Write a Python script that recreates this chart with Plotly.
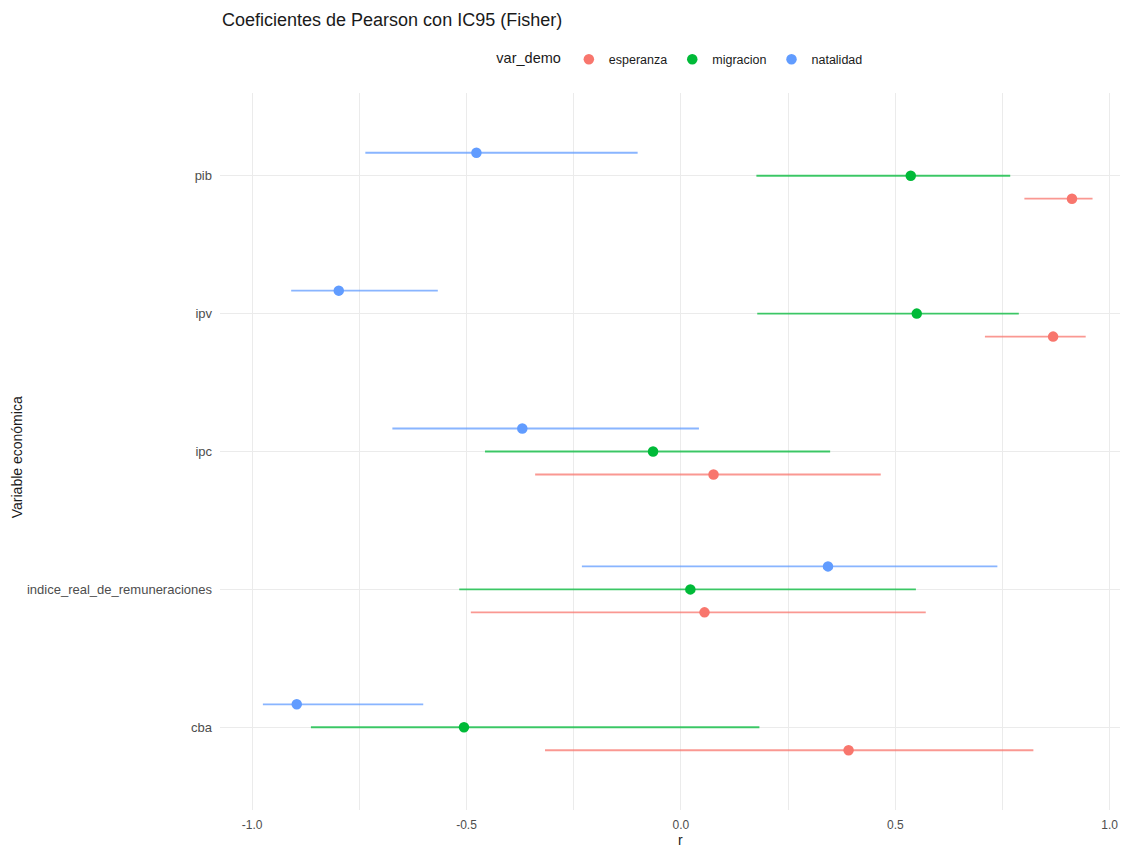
import plotly.graph_objects as go

# Data
categories = ["cba", "indice_real_de_remuneraciones", "ipc", "ipv", "pib"]
series = ["esperanza", "migracion", "natalidad"]

r_esperanza = [0.391, 0.055, 0.076, 0.868, 0.912]
lo_esperanza = [-0.317, -0.490, -0.340, 0.709, 0.801]
hi_esperanza = [0.822, 0.571, 0.466, 0.944, 0.960]

r_migracion = [-0.506, 0.022, -0.065, 0.550, 0.536]
lo_migracion = [-0.863, -0.517, -0.457, 0.178, 0.176]
hi_migracion = [0.183, 0.548, 0.348, 0.788, 0.768]

r_natalidad = [-0.896, 0.343, -0.370, -0.798, -0.477]
lo_natalidad = [-0.975, -0.231, -0.673, -0.909, -0.736]
hi_natalidad = [-0.601, 0.738, 0.042, -0.567, -0.101]

colors = {"esperanza": "#F8766D", "migracion": "#00BA38", "natalidad": "#619CFF"}
line_colors = {"esperanza": "rgba(248,118,109,0.75)", "migracion": "rgba(0,186,56,0.75)",
               "natalidad": "rgba(97,156,255,0.75)"}
data = {
    "esperanza": (r_esperanza, lo_esperanza, hi_esperanza),
    "migracion": (r_migracion, lo_migracion, hi_migracion),
    "natalidad": (r_natalidad, lo_natalidad, hi_natalidad),
}
dodge = {"esperanza": -1 / 6, "migracion": 0.0, "natalidad": 1 / 6}

fig = go.Figure()
for s in series:
    r, lo, hi = data[s]
    ypos = [i + 1 + dodge[s] for i in range(len(categories))]
    fig.add_trace(go.Scatter(
        x=r, y=ypos, mode="markers", name=s,
        marker=dict(color=colors[s], size=10.5, line=dict(width=0)),
        error_x=dict(type="data", symmetric=False,
                     array=[h - v for h, v in zip(hi, r)],
                     arrayminus=[v - l for v, l in zip(r, lo)],
                     color=line_colors[s], thickness=1.8, width=0),
        customdata=[[c] for c in categories],
        hovertemplate="%{customdata[0]}<br>r=%{x:.3f}<extra>" + s + "</extra>",
    ))

font_family = "Liberation Sans, Arial, sans-serif"
fig.update_layout(
    width=1128, height=847,
    paper_bgcolor="white", plot_bgcolor="white",
    margin=dict(l=212, r=7, t=85, b=45, autoexpand=False),
    font=dict(family=font_family, size=12, color="#4D4D4D"),
    title=dict(text="Coeficientes de Pearson con IC95 (Fisher)",
               font=dict(family=font_family, size=18, color="#1A1A1A"),
               xref="container", x=214 / 1128, xanchor="left",
               yref="container", y=1 - 12 / 847, yanchor="middle"),
    legend=dict(orientation="h", x=0.507, xanchor="center", y=1.0466, yanchor="middle",
                title=dict(text="var_demo", font=dict(size=14.5, color="#1A1A1A")),
                font=dict(size=12.5, color="#1A1A1A"),
                bgcolor="rgba(0,0,0,0)"),
    showlegend=True,
    xaxis=dict(range=[-1.075, 1.045], tickvals=[-1, -0.5, 0, 0.5, 1],
               ticktext=["-1.0", "-0.5", "0.0", "0.5", "1.0"],
               showgrid=True, gridcolor="#EBEBEB", gridwidth=1.1,
               zeroline=False, showline=False, ticks="", ticklabelstandoff=6,
               tickfont=dict(size=12, color="#4D4D4D"),
               minor=dict(tickvals=[-0.75, -0.25, 0.25, 0.75], showgrid=True,
                          gridcolor="#EBEBEB", gridwidth=0.6)),
    yaxis=dict(range=[0.4, 5.6], tickvals=[1, 2, 3, 4, 5], ticktext=categories,
               showgrid=True, gridcolor="#EBEBEB", gridwidth=1.1,
               zeroline=False, showline=False, ticks="", ticklabelstandoff=7,
               tickfont=dict(size=13, color="#4D4D4D")),
    annotations=[
        dict(text="r", xref="paper", yref="paper", x=0.507, y=-0.0424,
             showarrow=False, xanchor="center", yanchor="middle",
             font=dict(size=14, color="#1A1A1A")),
        dict(text="Variable económica", xref="paper", yref="paper",
             x=-0.2233, y=0.492, textangle=-90,
             showarrow=False, xanchor="center", yanchor="middle",
             font=dict(size=14, color="#1A1A1A")),
    ],
)

fig.write_html("out.html")
